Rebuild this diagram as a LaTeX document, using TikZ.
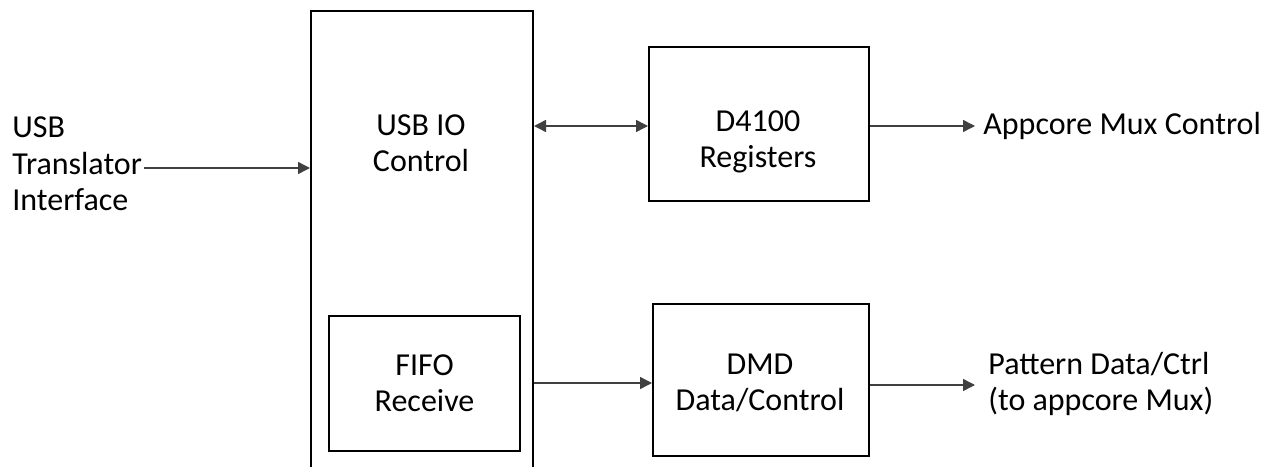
\documentclass[tikz,border=0pt]{standalone}
\usepackage{fontspec}
\setmainfont{Carlito}
\usetikzlibrary{arrows.meta}
\begin{document}
\begin{tikzpicture}[x=0.5pt,y=-0.5pt,
  every node/.style={font=\fontsize{16pt}{18.2pt}\selectfont, text=black},
  block/.style={draw=black, line width=1pt, inner sep=0pt, anchor=north west},
  caption/.style={align=center, inner sep=0pt},
  label/.style={align=left, anchor=west, inner sep=0pt},
  link/.style={line width=0.7pt, draw=black!75, -{Triangle[length=6pt,width=6pt]}},
  duplex/.style={line width=0.7pt, draw=black!75, {Triangle[length=6pt,width=6pt]}-{Triangle[length=6pt,width=6pt]}}]
\useasboundingbox (0,0) rectangle (1269,466);
\clip (0,0) rectangle (1269,466);

% main USB IO block (runs off the bottom edge)
\node[block, minimum width=111pt, minimum height=240pt] (usbio) at (310,10) {};
\node[caption] (usbiotext) at (421,143) {USB IO\\Control};

% FIFO inside the USB IO block
\node[block, minimum width=95.5pt, minimum height=67.5pt] (fifo) at (328,315) {};
\node[caption] (fifotext) at (fifo.center) {FIFO\\Receive};

% register and data blocks
\node[block, minimum width=110pt, minimum height=77pt] (regs) at (648,46) {};
\node[caption] (regstext) at (758,142) {D4100\\Registers};
\node[block, minimum width=108pt, minimum height=76pt] (dmd) at (652,303) {};
\node[caption] (dmdtext) at (760,383) {DMD\\Data/Control};

% external labels
\node[label] (usbin) at (12,164) {USB\\Translator\\Interface};
\node[label] (muxctl) at (983,126) {Appcore Mux Control};
\node[label] (pattern) at (988,384) {Pattern Data/Ctrl\\(to appcore Mux)};

% connectors
\coordinate (inend) at (144,168);
\draw[link] (inend) -- (usbio.west |- inend);
\draw[duplex] (usbio.east |- 0,126) -- (regs.west |- 0,126);
\draw[link] (regs.east |- 0,126) -- ([xshift=-4pt]muxctl.west);
\draw[link] (usbio.east |- 0,383) -- (dmd.west |- 0,383);
\draw[link] (dmd.east |- 0,385) -- ([xshift=-6.5pt]pattern.west |- 0,385);
\end{tikzpicture}
\end{document}
